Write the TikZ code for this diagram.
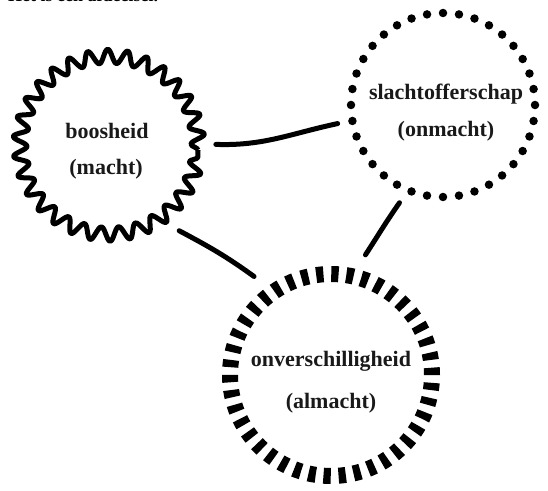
\documentclass[tikz,border=0pt]{standalone}
\usepackage{fontspec}
\setmainfont{Liberation Serif}
\usetikzlibrary{decorations.pathmorphing}
\begin{document}
\begin{tikzpicture}[x=1pt,y=1pt,
  lbl/.style={font=\bfseries\fontsize{22}{26}\selectfont, anchor=base, inner sep=0pt, text=black!90},
  toplbl/.style={font=\bfseries\fontsize{18}{22}\selectfont, anchor=base west, inner sep=0pt},
  snakering/.style={circle, draw, minimum size=178pt, inner sep=0pt, outer sep=18pt,
    line width=5pt, line join=round, decorate,
    decoration={snake, segment length=18.64pt, amplitude=7pt}},
  dotring/.style={circle, draw, minimum size=184pt, inner sep=0pt, outer sep=15pt,
    line width=8.5pt, line cap=round, dash pattern=on 0pt off 16.057pt},
  dashring/.style={circle, draw, minimum size=202pt, inner sep=0pt, outer sep=24pt,
    line width=16pt, dash pattern=on 7.3pt off 7.81pt},
  link/.style={line width=5pt, line cap=round}]
\useasboundingbox (0,0) rectangle (548,490);

\node[toplbl] (title) at (8,488) {Het is een afdeelsel.};

\node[snakering] (A) at (109,340) {};
\node[dotring]   (B) at (443,385) {};
\node[dashring]  (C) at (331,115) {};

\node[lbl] (a1) at ([shift={(-2,11)}]A.center) {boosheid};
\node[lbl] (a2) at ([shift={(-3,-25)}]A.center) {(macht)};
\node[lbl] (b1) at ([shift={(3,5)}]B.center) {slachtofferschap};
\node[lbl] (b2) at ([shift={(3,-32)}]B.center) {(onmacht)};
\node[lbl] (c1) at ([shift={(0,9)}]C.center) {onverschilligheid};
\node[lbl] (c2) at ([shift={(0,-33)}]C.center) {(almacht)};

\draw[link] (A.3.8) to[out=-2,in=192] (B.190.5);
\draw[link] (A.-49) to[out=-28,in=144] (C.128.5);
\draw[link] (B.246.4) to[out=235,in=57] (C.74.2);
\end{tikzpicture}
\end{document}
